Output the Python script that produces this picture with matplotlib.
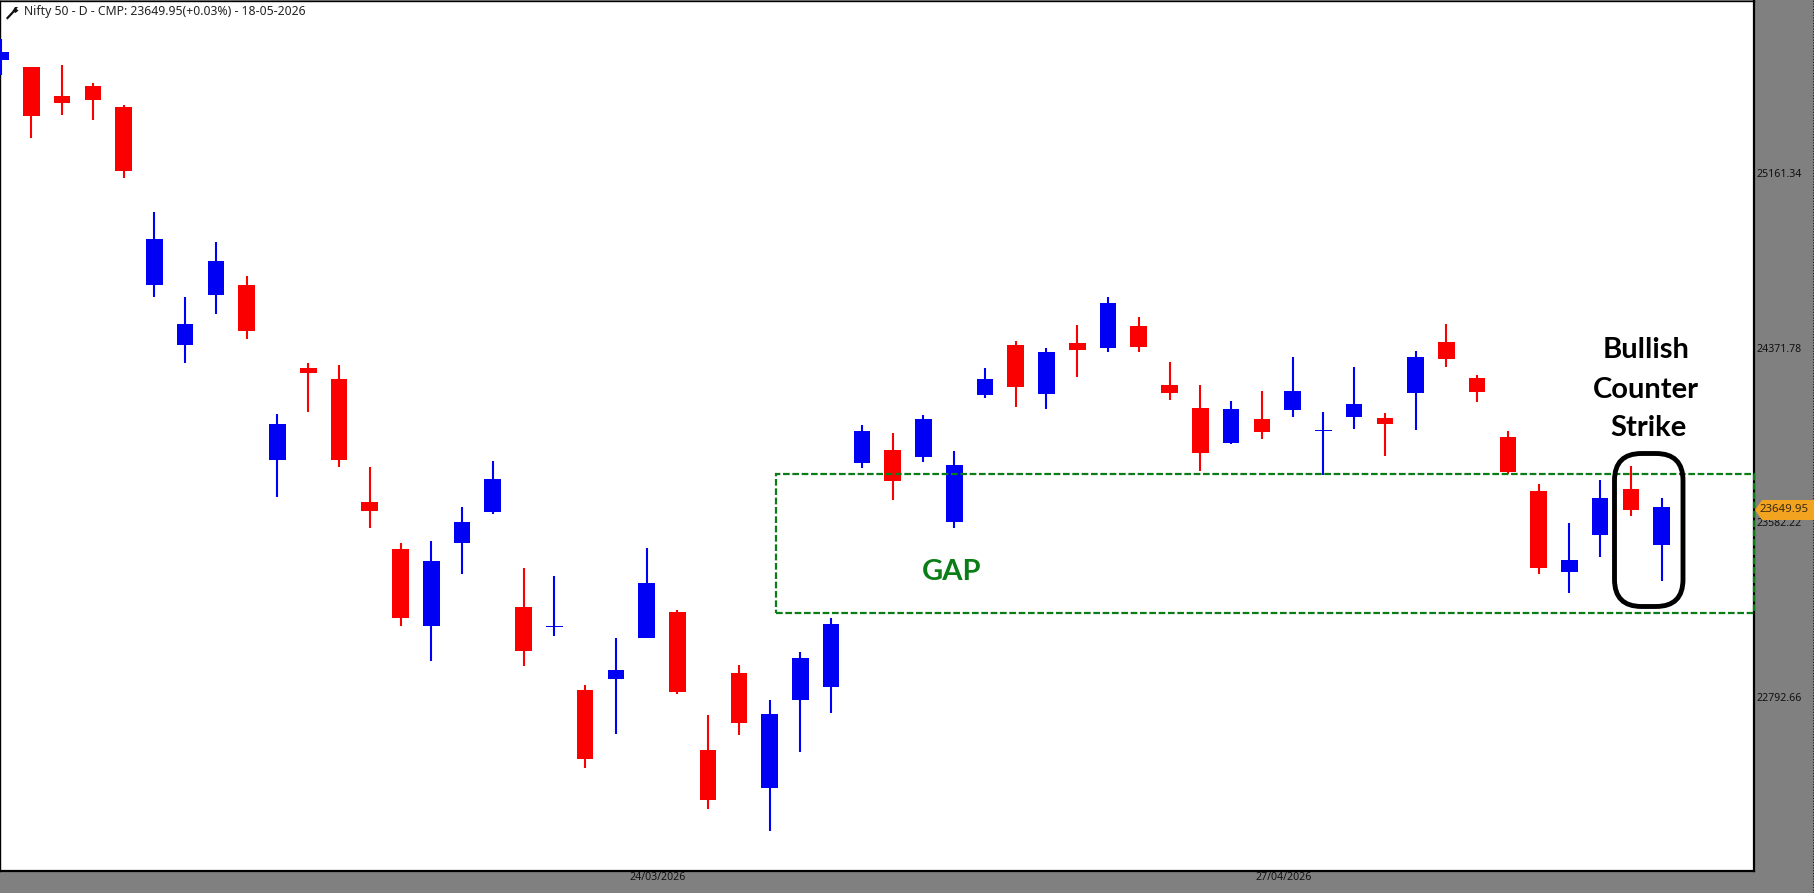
import matplotlib
matplotlib.use('Agg')
import matplotlib.pyplot as plt
import numpy as np
from matplotlib.patches import FancyBboxPatch, Polygon, Rectangle
from matplotlib.lines import Line2D
from matplotlib.transforms import IdentityTransform

# daily candles, oldest first
highs = [25765, 25639, 25648, 25569, 25470, 24986, 24598, 24851, 24697, 24072, 24301, 24293, 23831, 23487, 23497,
         23651, 23859, 23375, 23339, 22847, 23058, 23464, 23184, 22711, 22937, 22779, 22996, 23149, 24022, 23986,
         24067, 23904, 24278, 24400, 24368, 24474, 24599, 24510, 24307, 24203, 24129, 24175, 24329, 24081, 24284,
         24076, 24355, 24478, 24248, 23993, 23755, 23579, 23773, 23836, 23692]
lows = [25602, 25321, 25425, 25398, 25136, 24598, 24304, 24525, 24412, 23695, 24079, 23831, 23555, 23112, 22954,
        23347, 23618, 22931, 23067, 22470, 22624, 23059, 22805, 22285, 22619, 22185, 22542, 22719, 23826, 23681,
        23853, 23555, 24142, 24102, 24093, 24237, 24350, 24350, 24133, 23813, 23935, 23957, 24057, 23794, 24002,
        23880, 23998, 24283, 24124, 23799, 23347, 23261, 23424, 23609, 23315]
opens = [25672, 25639, 25508, 25553, 25458, 24655, 24383, 24609, 24653, 23864, 24278, 24228, 23672, 23460, 23113,
         23488, 23629, 23198, 23107, 22823, 22874, 23059, 23175, 22551, 22899, 22381, 22779, 22838, 23850, 23907,
         23877, 23583, 24156, 24382, 24162, 24391, 24368, 24468, 24201, 24097, 23940, 24048, 24090, 23993, 24058,
         24052, 24166, 24396, 24233, 23966, 23722, 23357, 23525, 23731, 23479]
closes = [25708, 25418, 25477, 25491, 25170, 24861, 24477, 24762, 24447, 24025, 24257, 23864, 23633, 23149, 23406,
          23582, 23776, 23000, 23112, 22512, 22913, 23306, 22815, 22327, 22675, 22714, 22967, 23121, 23993, 23769,
          24048, 23840, 24228, 24194, 24350, 24361, 24572, 24374, 24166, 23895, 24093, 23989, 24174, 23999, 24115,
          24025, 24328, 24320, 24171, 23809, 23375, 23410, 23690, 23638, 23649.95]

price_ticks = [25161.34, 24371.78, 23582.22, 22792.66]
date_ticks = [21.35, 41.72]
date_labels = ['24/03/2026', '27/04/2026']
gap_top = 23799
gap_bottom = 23172
gap_start = 25.2
last_price = 23649.95
title = 'Nifty 50 - D - CMP: 23649.95(+0.03%) - 18-05-2026'

W, H = 1815, 893
GREY = '#808080'
UP = '#0000f5'
DOWN = '#fa0000'
GREEN = '#0b7d16'
id_tr = IdentityTransform()

plt.rcParams['font.family'] = ['Noto Sans', 'DejaVu Sans']

fig = plt.figure(figsize=(W / 100, H / 100), dpi=100, facecolor=GREY)
# axes box in pixels: left 0, right 1754, top 1, bottom 871
ax = fig.add_axes([0, 1 - 871 / H, 1754 / W, 870 / H], facecolor='white')
XMAX = 57.0
ax.set_xlim(-0.02, XMAX)
ax.set_ylim(22006, 25938)
for name, s in ax.spines.items():
    s.set_linewidth(1.6 if name in ('right', 'bottom') else 1.0)
    s.set_color('black')

x = np.arange(len(opens))
for i in x:
    col = UP if closes[i] >= opens[i] else DOWN
    ax.vlines(i, lows[i], highs[i], color=col, lw=1.5, zorder=3)
    bottom = min(opens[i], closes[i])
    height = abs(closes[i] - opens[i])
    # thin bodies still need a visible bar, as in the original
    ax.bar(i, max(height, 4), 0.54, bottom=bottom, color=col, linewidth=0, zorder=3)

# gap zone
ax.add_patch(Rectangle((gap_start, gap_bottom), XMAX - gap_start, gap_top - gap_bottom, fill=False,
                       edgecolor=GREEN, lw=1.6, ls=(0, (3, 1.2)), zorder=4, clip_on=False))

ax.set_xticks(date_ticks)
ax.set_xticklabels(date_labels, fontsize=7.6, color='#111111')
ax.set_yticks(price_ticks)
ax.set_yticklabels(['%.2f' % p for p in price_ticks], fontsize=7.6, color='#111111')
ax.yaxis.tick_right()
ax.tick_params(axis='both', length=0, pad=2)
ax.tick_params(axis='x', pad=1)


def px(xp, yp):
    return xp / W, 1 - yp / H


# header
fig.text(*px(24, 12), title, fontsize=8.8, color='#222222', va='center', ha='left', zorder=10)
fig.add_artist(Line2D([7.5, 14.5], [H - 18, H - 10.5], color='#111111', lw=1.6, transform=id_tr))
fig.add_artist(Polygon([(12.5, H - 11), (15, H - 7), (18, H - 7), (16.5, H - 9), (18.5, H - 10.5), (15.5, H - 13)],
                       closed=True, color='#111111', lw=0, transform=id_tr))

# annotations
note_font = dict(fontsize=21, fontweight='bold', family=['Lato', 'DejaVu Sans'], ha='center', va='center')
fig.text(*px(952, 572.5), 'GAP', color=GREEN, **note_font)
fig.text(*px(1646, 350.5), 'Bullish', color='black', **note_font)
fig.text(*px(1646, 389.5), 'Counter', color='black', **note_font)
fig.text(*px(1648, 428.5), 'Strike', color='black', **note_font)

r = 27
fig.add_artist(FancyBboxPatch((1614.5 + r, H - 606.5 + r), 68.5 - 2 * r, 153 - 2 * r,
                              boxstyle='round,pad=%d,rounding_size=%d' % (r, r),
                              fill=False, edgecolor='black', lw=3.5, transform=id_tr, zorder=6))

# last price tag
fig.add_artist(Polygon([(1755, H - 510), (1762, H - 500), (W, H - 500), (W, H - 520), (1762, H - 520)],
                       closed=True, color='#f2a31f', lw=0, transform=id_tr, zorder=7))
fig.text(*px(1784, 509.5), '%.2f' % last_price, fontsize=8.2, color='#3a2a10', ha='center', va='center', zorder=8)

# dotted edge on the far right
fig.add_artist(Line2D([1813, 1813], [0, H], color='#222222', lw=0.8, ls=(0, (1, 1.5)), transform=id_tr))

fig.savefig('out.png', dpi=100, facecolor=GREY)
